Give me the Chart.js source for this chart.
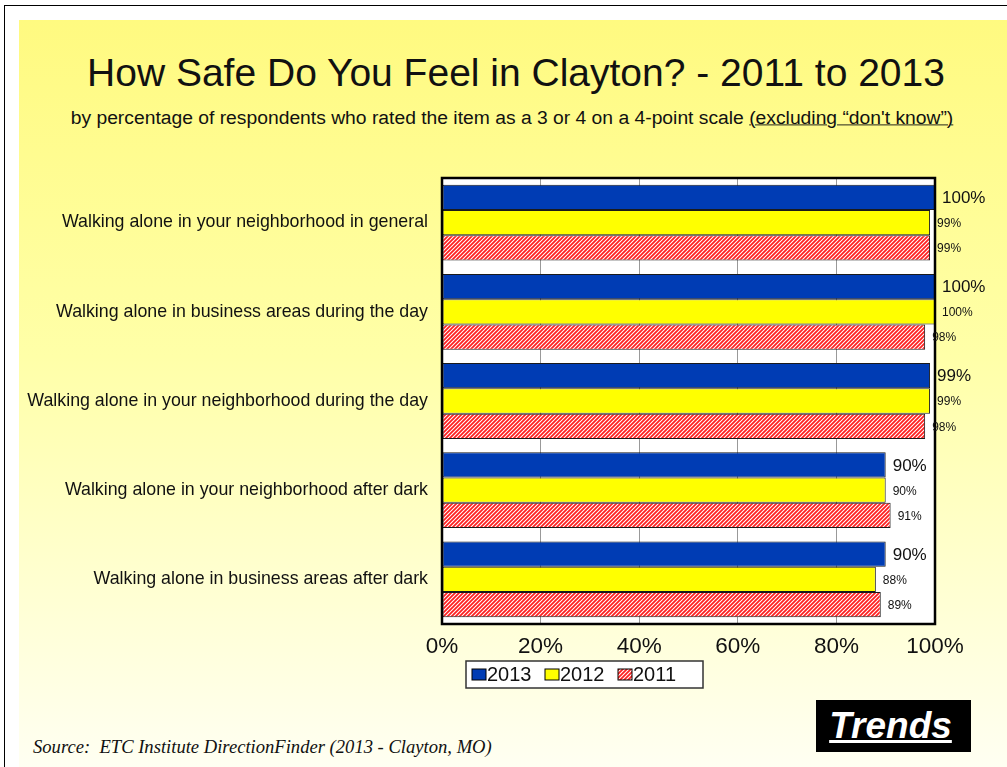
<!DOCTYPE html>
<html>
<head>
<meta charset="utf-8">
<script src="https://cdn.jsdelivr.net/npm/chart.js@4.4.1/dist/chart.umd.min.js"></script>
<style>
  html, body { margin: 0; padding: 0; }
  body { width: 1007px; height: 767px; position: relative; overflow: hidden; background: #fff; font-family: "Liberation Sans", Arial, sans-serif; }
  #frame { position: absolute; left: 4px; top: 5px; width: 1010px; height: 770px; border-left: 1.5px solid #000; border-top: 1.5px solid #000; }
  #slide { position: absolute; left: 19px; top: 20px; right: 0; bottom: 0; background: linear-gradient(#fffa80, #ffffa8 45%, #fffff2); }
  #title { position: absolute; left: 0; width: 1032px; top: 50px; text-align: center; font-size: 39px; line-height: 46px; color: #111; }
  #subtitle { position: absolute; left: 0; width: 1024px; top: 106px; text-align: center; font-size: 19.3px; line-height: 24px; color: #111; transform: scaleY(0.92); }
  #subtitle u { text-decoration-thickness: 1px; }
  #source { position: absolute; left: 33px; top: 736px; font-family: "Liberation Serif", "Times New Roman", serif; font-style: italic; font-size: 18.6px; color: #111; }
  #trends { position: absolute; left: 816px; top: 700px; width: 149px; padding-right: 6px; height: 52px; background: #000; color: #fff; text-align: center; font-family: "Liberation Sans Narrow", "Liberation Sans", Arial, sans-serif; font-weight: bold; font-style: italic; font-size: 37px; line-height: 52px; text-decoration: underline; }
  #wrap { position: absolute; left: 0; top: 0; width: 1007px; height: 767px; }
</style>
</head>
<body>
<div id="frame"></div>
<div id="slide"></div>
<div id="title">How Safe Do You Feel in Clayton? - 2011 to 2013</div>
<div id="subtitle">by percentage of respondents who rated the item as a 3 or 4 on a 4-point scale <u>(excluding “don't know”)</u></div>
<div id="source">Source:&nbsp; ETC Institute DirectionFinder (2013 - Clayton, MO)</div>
<div id="trends">Trends</div>
<div id="wrap"><canvas id="safety-chart"></canvas></div>
<script>
const categories = [
  'Walking alone in your neighborhood in general',
  'Walking alone in business areas during the day',
  'Walking alone in your neighborhood during the day',
  'Walking alone in your neighborhood after dark',
  'Walking alone in business areas after dark'
];
const years = ['2013', '2012', '2011'];
const values2013 = [100, 100, 99, 90, 90];
const values2012 = [99, 100, 99, 90, 88];
const values2011 = [99, 98, 98, 91, 89];
const xTicks = [0, 20, 40, 60, 80, 100];

// red diagonal hatch for 2011
function makeHatch() {
  const c = document.createElement('canvas');
  c.width = 4;
  c.height = 4;
  const g = c.getContext('2d');
  g.fillStyle = '#ffffff';
  g.fillRect(0, 0, 4, 4);
  g.strokeStyle = '#ff2020';
  g.lineWidth = 1.8;
  g.beginPath();
  g.moveTo(-1, 5); g.lineTo(5, -1);
  g.moveTo(-1, 1); g.lineTo(1, -1);
  g.moveTo(3, 5); g.lineTo(5, 3);
  g.stroke();
  return g.createPattern(c, 'repeat');
}
const hatch = makeHatch();

const plotBox = {
  id: 'plotBox',
  beforeDraw(chart) {
    const a = chart.chartArea, ctx = chart.ctx;
    ctx.save();
    ctx.fillStyle = '#ffffff';
    ctx.fillRect(a.left, a.top, a.right - a.left, a.bottom - a.top);
    ctx.restore();
  },
  afterDatasetsDraw(chart) {
    const a = chart.chartArea, ctx = chart.ctx;
    ctx.save();
    ctx.strokeStyle = '#000';
    ctx.lineWidth = 2.5;
    ctx.strokeRect(a.left, a.top, a.right - a.left, a.bottom - a.top);

    // value labels next to each bar
    ctx.fillStyle = '#111';
    ctx.textBaseline = 'middle';
    ctx.textAlign = 'left';
    chart.data.datasets.forEach((ds, i) => {
      const meta = chart.getDatasetMeta(i);
      ctx.font = i === 0 ? '17px "Liberation Sans", Arial' : '12px "Liberation Sans", Arial';
      meta.data.forEach((bar, j) => {
        ctx.fillText(ds.data[j] + '%', bar.x + 7, bar.y + 1);
      });
    });

    // legend box under the axis
    const lx = 466, ly = 661, lw = 237, lh = 27;
    ctx.fillStyle = '#fff';
    ctx.fillRect(lx, ly, lw, lh);
    ctx.strokeStyle = '#333';
    ctx.lineWidth = 1.5;
    ctx.strokeRect(lx, ly, lw, lh);
    ctx.font = '20px "Liberation Sans", Arial';
    chart.data.datasets.forEach((ds, i) => {
      const sx = lx + 6 + i * 73;
      ctx.fillStyle = ds.backgroundColor;
      ctx.fillRect(sx, ly + 8, 14, 11);
      ctx.strokeStyle = '#000';
      ctx.lineWidth = 1;
      ctx.strokeRect(sx, ly + 8, 14, 11);
      ctx.fillStyle = '#111';
      ctx.fillText(ds.label, sx + 15, ly + lh / 2 + 1);
    });
    ctx.restore();
  }
};

const config = {
  type: 'bar',
  data: {
    labels: categories,
    datasets: [
      { label: years[0], data: values2013, backgroundColor: '#003cb4' },
      { label: years[1], data: values2012, backgroundColor: '#ffff00' },
      { label: years[2], data: values2011, backgroundColor: hatch }
    ]
  },
  options: {
    indexAxis: 'y',
    responsive: false,
    animation: false,
    layout: {
      padding: { left: 0, top: 178, right: 72, bottom: 103 }
    },
    datasets: {
      bar: {
        categoryPercentage: 0.85,
        barPercentage: 1,
        borderColor: '#1a1a1a',
        borderWidth: 1,
        borderSkipped: false
      }
    },
    scales: {
      x: {
        min: 0,
        max: 100,
        afterBuildTicks: (scale) => { scale.ticks = xTicks.map(v => ({ value: v })); },
        afterFit: (scale) => { scale.height = 40; },
        grid: { color: '#999', lineWidth: 1, drawTicks: false },
        border: { display: false },
        ticks: {
          padding: 9,
          color: '#111',
          font: { size: 22.5, family: '"Liberation Sans", Arial' },
          callback: (v) => v + '%'
        }
      },
      y: {
        afterFit: (scale) => { scale.width = 442; },
        grid: { display: false },
        border: { display: false },
        ticks: {
          padding: 6,
          color: '#111',
          font: { size: 17.8, family: '"Liberation Sans", Arial' }
        }
      }
    },
    plugins: {
      legend: { display: false },
      tooltip: { enabled: false }
    }
  },
  plugins: [plotBox]
};

const canvas = document.getElementById('safety-chart');
canvas.width = 1007;
canvas.height = 767;
const safetyChart = new Chart(canvas, config);
</script>
</body>
</html>
